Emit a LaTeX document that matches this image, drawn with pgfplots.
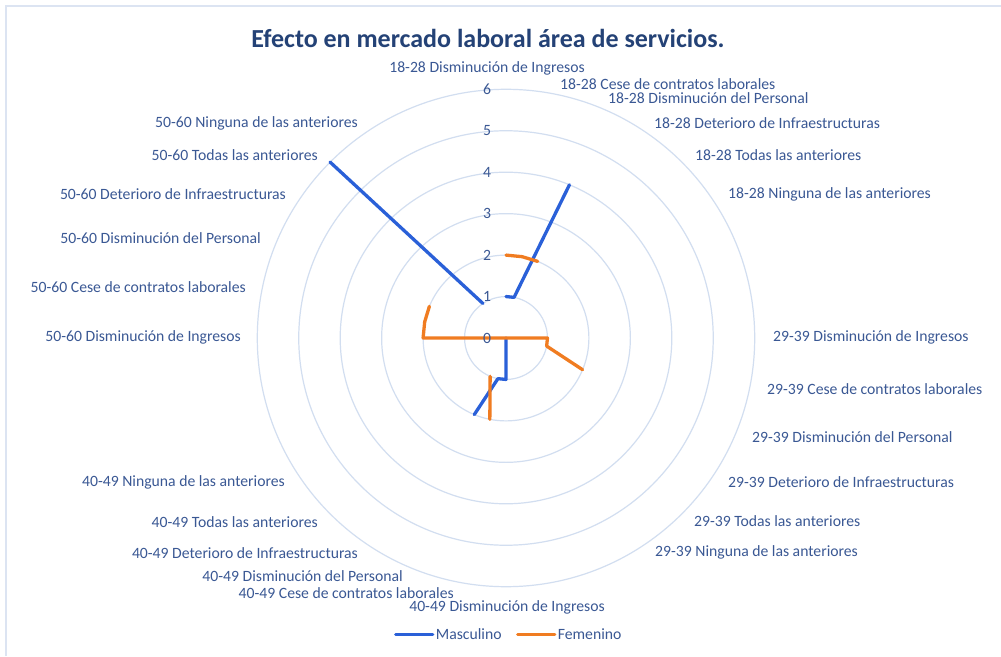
\documentclass[border=0pt]{standalone}
\usepackage{pgfplots}
\pgfplotsset{compat=1.18}
\usepgfplotslibrary{polar}
\usepackage{fontspec}
\setmainfont{Carlito}
\definecolor{serblue}{RGB}{42,96,216}
\definecolor{serorange}{RGB}{240,124,33}
\definecolor{labc}{RGB}{58,88,148}
\definecolor{titc}{RGB}{36,66,118}
\definecolor{gridc}{RGB}{210,222,240}
\definecolor{framec}{RGB}{220,228,242}
\newcommand{\lf}{\fontsize{15.7}{18}\selectfont}
\begin{document}
\begin{tikzpicture}[x=1pt,y=1pt]
\useasboundingbox (0,0) rectangle (1001,656);
\fill[white] (0,0) rectangle (1001,656);
\draw[framec, line width=2pt] (6,0) -- (6,650) -- (1001,650);
\begin{polaraxis}[
  at={(506pt,318pt)}, anchor=center,
  scale only axis, width=497.4pt, height=497.4pt,
  ymin=0, ymax=6, ytick={1,2,3,4,5}, yticklabels={},
  ymajorgrids, xtick=\empty,
  major grid style={gridc, line width=1.2pt},
  axis line style={gridc, line width=1.2pt},
  y axis line style={draw=none},
  tick style={draw=none},
  unbounded coords=jump,
  clip=false,
  legend style={at={(0.505,-0.0965)}, anchor=center, draw=none, fill=none,
    legend columns=2, font=\lf, text=labc,
    /tikz/every even column/.append style={column sep=13pt},
    inner sep=0pt, nodes={inner sep=1.5pt}},
  legend image code/.code={\draw[#1] (0pt,0pt) -- (37pt,0pt);},
]
\addplot[serblue, line width=3.3pt, line join=round, line cap=round] coordinates {
 (90,1) (78.75,1) (67.5,4) (56.25,nan)
 (281.25,0) (270,1) (258.75,1) (247.5,2) (236.25,nan)
 (135,6) (123.75,1)};
\addlegendentry{Masculino}
\addplot[serorange, line width=3.3pt, line join=round, line cap=round] coordinates {
 (90,2) (78.75,2) (67.5,2) (56.25,nan)
 (11.25,0) (0,1) (348.75,1) (337.5,2) (326.25,nan)
 (258.75,2) (247.5,1) (236.25,nan)
 (191.25,0) (180,2) (168.75,2) (157.5,2)};
\addlegendentry{Femenino}
\node[font=\lf, text=labc, xshift=-19pt] at (axis cs:90,0) {0};
\node[font=\lf, text=labc, xshift=-19pt] at (axis cs:90,1) {1};
\node[font=\lf, text=labc, xshift=-19pt] at (axis cs:90,2) {2};
\node[font=\lf, text=labc, xshift=-19pt] at (axis cs:90,3) {3};
\node[font=\lf, text=labc, xshift=-19pt] at (axis cs:90,4) {4};
\node[font=\lf, text=labc, xshift=-19pt] at (axis cs:90,5) {5};
\node[font=\lf, text=labc, xshift=-19pt] at (axis cs:90,6) {6};
\end{polaraxis}
\node[font=\bfseries\fontsize{26}{30}\selectfont, text=titc] at (488,618) {Efecto en mercado laboral área de servicios.};
\begin{scope}[every node/.style={font=\lf, text=labc, inner sep=0pt}]
\node[anchor=center] at (487,588) {18-28 Disminución de Ingresos};
\node[anchor=west] at (560,572) {18-28 Cese de contratos laborales};
\node[anchor=west] at (608,558) {18-28 Disminución del Personal};
\node[anchor=west] at (654,533) {18-28 Deterioro de Infraestructuras};
\node[anchor=west] at (695,501) {18-28 Todas las anteriores};
\node[anchor=west] at (728,462) {18-28 Ninguna de las anteriores};
\node[anchor=west] at (773,319) {29-39 Disminución de Ingresos};
\node[anchor=west] at (767,267) {29-39 Cese de contratos laborales};
\node[anchor=west] at (752,219) {29-39 Disminución del Personal};
\node[anchor=west] at (728,174) {29-39 Deterioro de Infraestructuras};
\node[anchor=west] at (694,135) {29-39 Todas las anteriores};
\node[anchor=west] at (655,104) {29-39 Ninguna de las anteriores};
\node[anchor=center] at (507,49) {40-49 Disminución de Ingresos};
\node[anchor=east] at (454,63) {40-49 Cese de contratos laborales};
\node[anchor=east] at (403,80) {40-49 Disminución del Personal};
\node[anchor=east] at (358,103) {40-49 Deterioro de Infraestructuras};
\node[anchor=east] at (318,134) {40-49 Todas las anteriores};
\node[anchor=east] at (285,174) {40-49 Ninguna de las anteriores};
\node[anchor=east] at (241,319) {50-60 Disminución de Ingresos};
\node[anchor=east] at (246,369) {50-60 Cese de contratos laborales};
\node[anchor=east] at (261,418) {50-60 Disminución del Personal};
\node[anchor=east] at (286,462) {50-60 Deterioro de Infraestructuras};
\node[anchor=east] at (318,501) {50-60 Todas las anteriores};
\node[anchor=east] at (358,533) {50-60 Ninguna de las anteriores};
\end{scope}
\end{tikzpicture}
\end{document}
